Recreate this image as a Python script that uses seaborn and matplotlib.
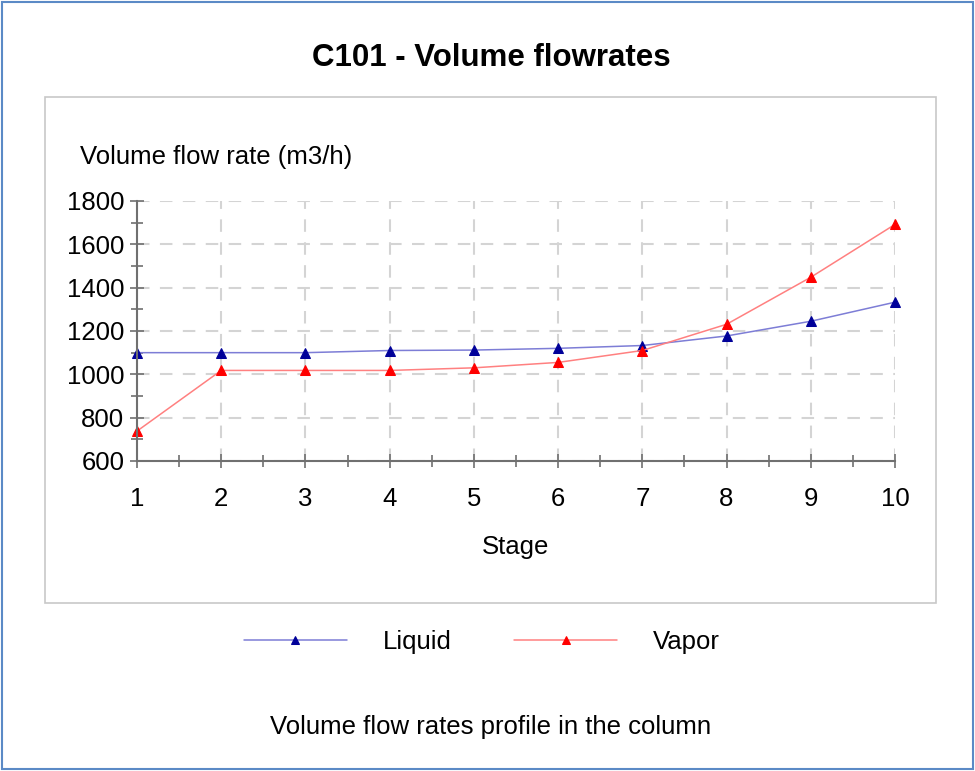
import matplotlib
matplotlib.use("Agg")
import matplotlib.pyplot as plt
import seaborn as sns
import numpy as np
from matplotlib.patches import Rectangle
from matplotlib.ticker import MultipleLocator


stages = [1, 2, 3, 4, 5, 6, 7, 8, 9, 10]
liquid = [1100, 1100, 1100, 1110, 1112, 1120, 1133, 1177, 1245, 1333]
vapor = [738, 1018, 1018, 1018, 1030, 1055, 1110, 1231, 1448, 1692]

sns.set_style("white")
plt.rcParams['font.family'] = ['Liberation Sans', 'DejaVu Sans']
plt.rcParams['text.color'] = 'black'

fig = plt.figure(figsize=(9.75, 7.71), dpi=100)

# outer blue frame and grey panel
fig.patches.append(Rectangle((0.002, 0.002), 0.996, 0.996, transform=fig.transFigure,
                             fill=False, edgecolor='#5b8ac6', linewidth=1.5))
fig.patches.append(Rectangle((45 / 975, 1 - 603 / 771), 891 / 975, 506 / 771,
                             transform=fig.transFigure, fill=False,
                             edgecolor='#c8c8c8', linewidth=1.2))

ax = fig.add_axes([137 / 975, 1 - 461 / 771, 758 / 975, 260 / 771])

sns.lineplot(x=stages, y=liquid, ax=ax, color='#7d7dd6', linewidth=1.1,
             marker='^', markersize=7.5, markerfacecolor='#000099',
             markeredgecolor='#000099', label='Liquid', clip_on=False)
sns.lineplot(x=stages, y=vapor, ax=ax, color='#ff8080', linewidth=1.1,
             marker='^', markersize=7.5, markerfacecolor='#ff0000',
             markeredgecolor='#ff0000', label='Vapor', clip_on=False)

ax.set_xlim(1, 10)
ax.set_ylim(600, 1800)
ax.xaxis.set_major_locator(MultipleLocator(1))
ax.xaxis.set_minor_locator(MultipleLocator(0.5))
ax.yaxis.set_major_locator(MultipleLocator(200))
ax.yaxis.set_minor_locator(MultipleLocator(100))

ax.grid(True, which='major', color='#d4d4d4', linestyle=(0, (6, 5)), linewidth=1.5)
for side in ['top', 'right']:
    ax.spines[side].set_visible(False)
for side in ['left', 'bottom']:
    ax.spines[side].set_color('#707070')
    ax.spines[side].set_linewidth(1.5)

ax.tick_params(which='both', bottom=True, left=True)
ax.tick_params(which='major', direction='inout', length=10, width=1.2, color='#707070',
               labelsize=18.5, labelcolor='black')
ax.tick_params(which='minor', direction='inout', length=8, width=1.2, color='#707070')
ax.tick_params(axis='y', which='major', pad=4)
ax.tick_params(axis='x', which='major', pad=14)

ax.set_xlabel('Stage', fontsize=18.5, labelpad=17, color='black')
ax.set_ylabel('')
ax.legend_.remove()

fig.text(80 / 975, 1 - 157 / 771, 'Volume flow rate (m3/h)', fontsize=18.5, va='center', ha='left')
fig.text(491 / 975, 1 - 58 / 771, 'C101 - Volume flowrates', fontsize=22.5, fontweight='bold',
         va='center', ha='center')
fig.text(491 / 975, 1 - 727 / 771, 'Volume flow rates profile in the column', fontsize=18.5,
         va='center', ha='center')

handles, labels = ax.get_legend_handles_labels()
fig.legend(handles, labels, loc='center', bbox_to_anchor=(482 / 975, 1 - 642 / 771),
           ncol=2, frameon=False, fontsize=18.5, handlelength=4, handletextpad=1.4,
           columnspacing=2.45, markerscale=0.85)

fig.savefig('out.png', dpi=100)
